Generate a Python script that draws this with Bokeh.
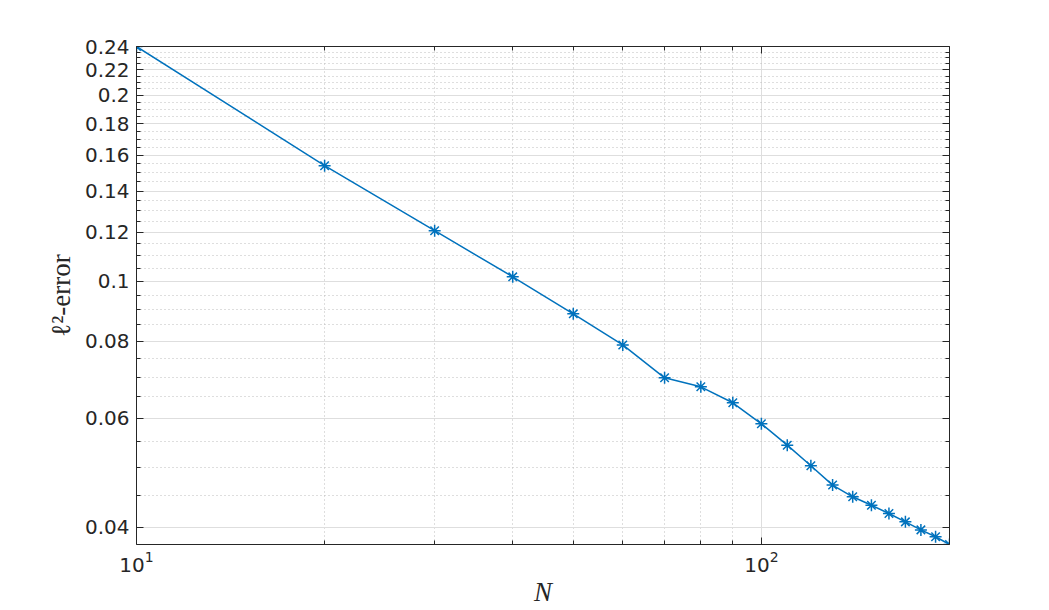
from bokeh.plotting import figure
from bokeh.models import FixedTicker, LogAxis, CustomJSTickFormatter, LogTickFormatter, Range1d
from bokeh.embed import file_html
from bokeh.resources import INLINE

# data
N = [10, 20, 30, 40, 50, 60, 70, 80, 90, 100,
     110, 120, 130, 140, 150, 160, 170, 180, 190, 200]
err = [0.2400, 0.1539, 0.1208, 0.1017, 0.0886, 0.0789, 0.0698, 0.0675, 0.0636, 0.0588,
       0.0543, 0.0503, 0.0468, 0.0448, 0.0434, 0.0421, 0.0408, 0.0396, 0.0386, 0.0375]

x_major = [10, 100]
x_minor = [20, 30, 40, 50, 60, 70, 80, 90, 200]
y_major = [0.04, 0.06, 0.08, 0.1, 0.12, 0.14, 0.16, 0.18, 0.2, 0.22, 0.24]
y_minor = [0.045, 0.05, 0.055, 0.065, 0.07, 0.075, 0.085, 0.09, 0.095,
           0.105, 0.11, 0.115, 0.125, 0.13, 0.135, 0.145, 0.15, 0.155,
           0.165, 0.17, 0.175, 0.185, 0.19, 0.195, 0.205, 0.21, 0.215,
           0.225, 0.23, 0.235]

AX = "#262626"
BLUE = "#0072BD"

p = figure(x_axis_type="log", y_axis_type="log",
           x_range=Range1d(min(N), max(N)), y_range=Range1d(min(err), max(err)),
           frame_width=813, frame_height=498,
           min_border_left=136, min_border_top=46, min_border_right=84, min_border_bottom=50,
           output_backend="svg", toolbar_location=None,
           background_fill_color="white", border_fill_color="white")
p.outline_line_color = None

xt = FixedTicker(ticks=x_major, minor_ticks=x_minor)
yt = FixedTicker(ticks=y_major, minor_ticks=y_minor)
yfmt = CustomJSTickFormatter(code="return String(Math.round(tick*100)/100);")
blank = CustomJSTickFormatter(code="return '';")


def style(ax):
    ax.axis_line_color = AX
    ax.axis_line_width = 1
    ax.major_tick_line_color = AX
    ax.minor_tick_line_color = AX
    ax.major_tick_in = 7
    ax.major_tick_out = 0
    ax.minor_tick_in = 4
    ax.minor_tick_out = 0
    ax.major_label_text_color = AX
    ax.major_label_text_font = "DejaVu Sans"
    ax.major_label_text_font_size = "20px"


xa = p.xaxis[0]
xa.ticker = xt
xa.formatter = LogTickFormatter()
style(xa)
xa.major_label_standoff = 6
xa.axis_label = "N"
xa.axis_label_text_font = "Liberation Serif"
xa.axis_label_text_font_style = "italic"
xa.axis_label_text_font_size = "27px"
xa.axis_label_text_color = AX
xa.axis_label_standoff = 2

ya = p.yaxis[0]
ya.ticker = yt
ya.formatter = yfmt
style(ya)
ya.major_label_standoff = 7
ya.axis_label = "ℓ²-error"
ya.axis_label_text_font = "Liberation Serif"
ya.axis_label_text_font_style = "normal"
ya.axis_label_text_font_size = "27px"
ya.axis_label_text_color = AX
ya.axis_label_standoff = 6

top = LogAxis(ticker=xt, formatter=blank)
style(top)
top.major_label_standoff = 0
right = LogAxis(ticker=yt, formatter=blank)
style(right)
right.major_label_standoff = 0
p.add_layout(top, "above")
p.add_layout(right, "right")

for g, t in ((p.xgrid[0], xt), (p.ygrid[0], yt)):
    g.ticker = t
    g.grid_line_color = "#dedede"
    g.grid_line_width = 1
    g.minor_grid_line_color = "#bcbcbc"
    g.minor_grid_line_dash = "1 3"
    g.minor_grid_line_width = 1

p.line(N, err, line_color=BLUE, line_width=1.5)
p.scatter(N, err, marker="asterisk", size=12, line_color=BLUE, line_width=1.5)

open("out.html", "w").write(file_html(p, INLINE))
